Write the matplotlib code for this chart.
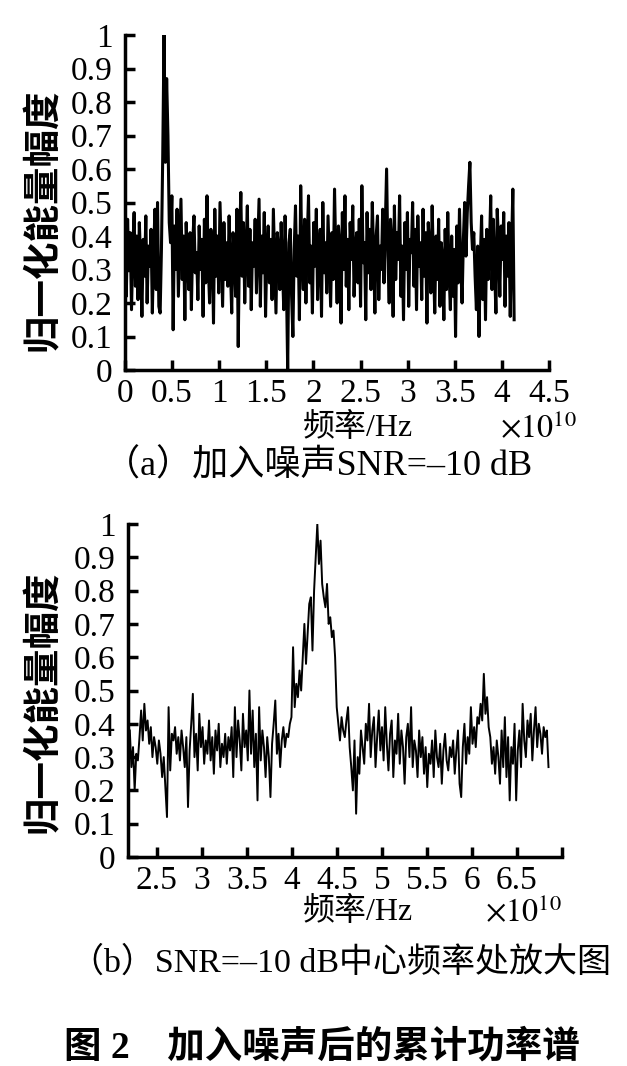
import matplotlib.pyplot as plt
import numpy as np

plt.rcParams['font.family'] = ['Liberation Serif', 'Noto Sans CJK SC']
plt.rcParams['mathtext.fontset'] = 'stix'

# (a) full spectrum, normalised amplitude in percent, frequency 0 .. 4.13e10 Hz
top_f_end = 4.13
top_amp = [
    38, 22, 45, 30, 41, 18, 36, 47, 25, 40, 21, 44, 33, 16, 39, 28, 46, 20, 37, 31,
    42, 17, 35, 48, 24, 50, 19, 17, 36, 64, 100, 62, 87, 70, 44, 38, 52, 12, 43, 30,
    48, 22, 36, 51, 27, 40, 15, 44, 33, 24, 41, 18, 38, 46, 29, 35, 21, 43, 30, 39,
    16, 45, 26, 52, 31, 20, 42, 37, 14, 48, 28, 40, 23, 50, 34, 19, 44, 27, 38, 25,
    46, 30, 17, 41, 35, 22, 48, 7, 39, 53, 28, 44, 20, 36, 49, 25, 42, 18, 38, 31,
    45, 23, 37, 51, 19, 40, 29, 47, 16, 35, 43, 26, 39, 21, 48, 32, 17, 41, 36, 24,
    44, 30, 18, 46, 27, 0, 38, 42, 22, 10, 36, 49, 28, 40, 15, 55, 33, 24, 45, 20,
    39, 52, 26, 37, 17, 44, 31, 48, 21, 35, 42, 16, 50, 29, 38, 23, 46, 33, 19, 41,
    27, 54, 34, 20, 43, 37, 14, 47, 30, 52, 25, 39, 18, 44, 33, 49, 22, 36, 41, 26,
    45, 19, 55, 32, 38, 15, 47, 29, 42, 24, 50, 35, 17, 40, 46, 21, 37, 30, 48, 26,
    43, 60, 34, 20, 45, 38, 16, 49, 27, 41, 33, 52, 22, 37, 15, 44, 30, 47, 19, 39,
    35, 50, 25, 42, 18, 46, 31, 38, 21, 48, 28, 41, 14, 44, 36, 23, 49, 32, 17, 40,
    27, 45, 19, 38, 33, 15, 42, 24, 47, 29, 18, 40, 22, 36, 10, 43, 26, 48, 31, 20,
    39, 50, 34, 47, 55, 62, 44, 36, 41, 28, 18, 37, 10, 33, 46, 21, 39, 15, 42, 27,
    36, 52, 24, 45, 30, 17, 48, 38, 22, 43, 33, 47, 19, 40, 28, 44, 16, 36, 54, 15,
]

# (b) zoom around the centre frequency, 2.2 .. 6.85e10 Hz
bot_f_start = 2.2
bot_f_end = 6.85
bot_amp = [
    38, 27, 33, 20, 31, 29, 36, 44, 35, 46, 38, 41, 34, 39, 30, 36, 33, 28, 35, 31,
    24, 30, 21, 12, 45, 26, 37, 35, 39, 31, 36, 29, 38, 33, 27, 36, 15, 32, 40, 49,
    30, 37, 26, 43, 33, 39, 28, 35, 31, 41, 29, 36, 25, 38, 32, 40, 27, 34, 30, 37,
    28, 36, 32, 39, 24, 45, 30, 41, 35, 26, 43, 33, 38, 29, 50, 31, 44, 27, 37, 17,
    45, 29, 38, 33, 24, 36, 30, 18, 34, 40, 47, 31, 37, 27, 35, 39, 33, 37, 36, 40,
    42, 63, 45, 52, 48, 56, 50, 60, 70, 58, 67, 76, 78, 62, 80, 90, 100, 88, 95, 82,
    78, 75, 82, 70, 72, 66, 68, 60, 45, 40, 35, 42, 38, 36, 41, 45, 33, 27, 20, 35,
    13, 30, 25, 38, 33, 28, 40, 35, 46, 30, 38, 42, 27, 36, 44, 32, 39, 29, 45, 34,
    26, 37, 41, 24, 35, 31, 43, 28, 38, 33, 22, 36, 40, 30, 45, 27, 35, 32, 24, 38,
    30, 36, 25, 33, 21, 31, 28, 35, 24, 38, 30, 27, 34, 22, 32, 37, 29, 26, 33, 30,
    35, 25, 32, 38, 22, 18, 33, 40, 28, 36, 31, 45, 34, 39, 33, 42, 40, 46, 41, 55,
    43, 48, 39, 36, 28, 33, 25, 35, 30, 22, 38, 27, 42, 24, 36, 17, 33, 28, 40, 17,
    32, 38, 27, 46, 35, 30, 41, 36, 43, 29, 38, 45, 33, 40, 37, 31, 39, 36, 38, 27,
]

top_xticks = [0, 0.5, 1, 1.5, 2, 2.5, 3, 3.5, 4, 4.5]
top_xlabels = ['0', '0.5', '1', '1.5', '2', '2.5', '3', '3.5', '4', '4.5']
bot_xticks = [2.5, 3, 3.5, 4, 4.5, 5, 5.5, 6, 6.5, 7]
bot_xlabels = ['2.5', '3', '3.5', '4', '4.5', '5', '5.5', '6', '6.5', '']
yticks = [0, 0.1, 0.2, 0.3, 0.4, 0.5, 0.6, 0.7, 0.8, 0.9, 1]
ylabels = ['0', '0.1', '0.2', '0.3', '0.4', '0.5', '0.6', '0.7', '0.8', '0.9', '1']

W, H = 627, 1066
fig = plt.figure(figsize=(W / 100, H / 100), dpi=100)


def px(x, y):
    return x / W, 1 - y / H


def style(ax):
    for s in ['top', 'right']:
        ax.spines[s].set_visible(False)
    for s in ['left', 'bottom']:
        ax.spines[s].set_linewidth(2.5)
    ax.tick_params(direction='in', length=7, width=2.5, labelsize=24)
    ax.tick_params(axis='y', pad=9)
    ax.tick_params(axis='x', pad=6)
    ax.set_ylim(0, 1)
    ax.set_yticks(yticks)
    ax.set_yticklabels(ylabels)


ax1 = fig.add_axes([125 / W, 1 - 370 / H, 424 / W, 335 / H])
x1 = np.linspace(0, top_f_end, len(top_amp))
ax1.plot(x1, np.array(top_amp) / 100, color='black', lw=2.2)
style(ax1)
ax1.set_xlim(0, 4.5)
ax1.set_xticks(top_xticks)
ax1.set_xticklabels(top_xlabels)

ax2 = fig.add_axes([128 / W, 1 - 857 / H, 434 / W, 333 / H])
x2 = np.linspace(bot_f_start, bot_f_end, len(bot_amp))
ax2.plot(x2, np.array(bot_amp) / 100, color='black', lw=1.4)
style(ax2)
ax2.set_xlim(2.18, 7.0)
ax2.set_xticks(bot_xticks)
ax2.set_xticklabels(bot_xlabels)

ylab = '归一化能量幅度'
fig.text(*px(42, 220), ylab, rotation=90, ha='center', va='center',
         fontsize=27, fontweight='bold', family=['Noto Sans CJK SC'])
fig.text(*px(42, 702), ylab, rotation=90, ha='center', va='center',
         fontsize=27, fontweight='bold', family=['Noto Sans CJK SC'])

for yy in (428, 912):
    fig.text(*px(358, yy), '频率/Hz', ha='center', va='center', fontsize=23)
fig.text(*px(538, 428), r'$\times10^{10}$', ha='center', va='center', fontsize=23)
fig.text(*px(523, 912), r'$\times10^{10}$', ha='center', va='center', fontsize=23)

fig.text(*px(318, 466), '（a）加入噪声SNR=–10 dB', ha='center', va='center',
         fontsize=26)
fig.text(*px(340, 963), '（b）SNR=–10 dB中心频率处放大图', ha='center', va='center',
         fontsize=24.5)
fig.text(*px(322, 1048), '图 2    加入噪声后的累计功率谱', ha='center', va='center',
         fontsize=27, fontweight='bold')

fig.savefig('out.png', dpi=100)
